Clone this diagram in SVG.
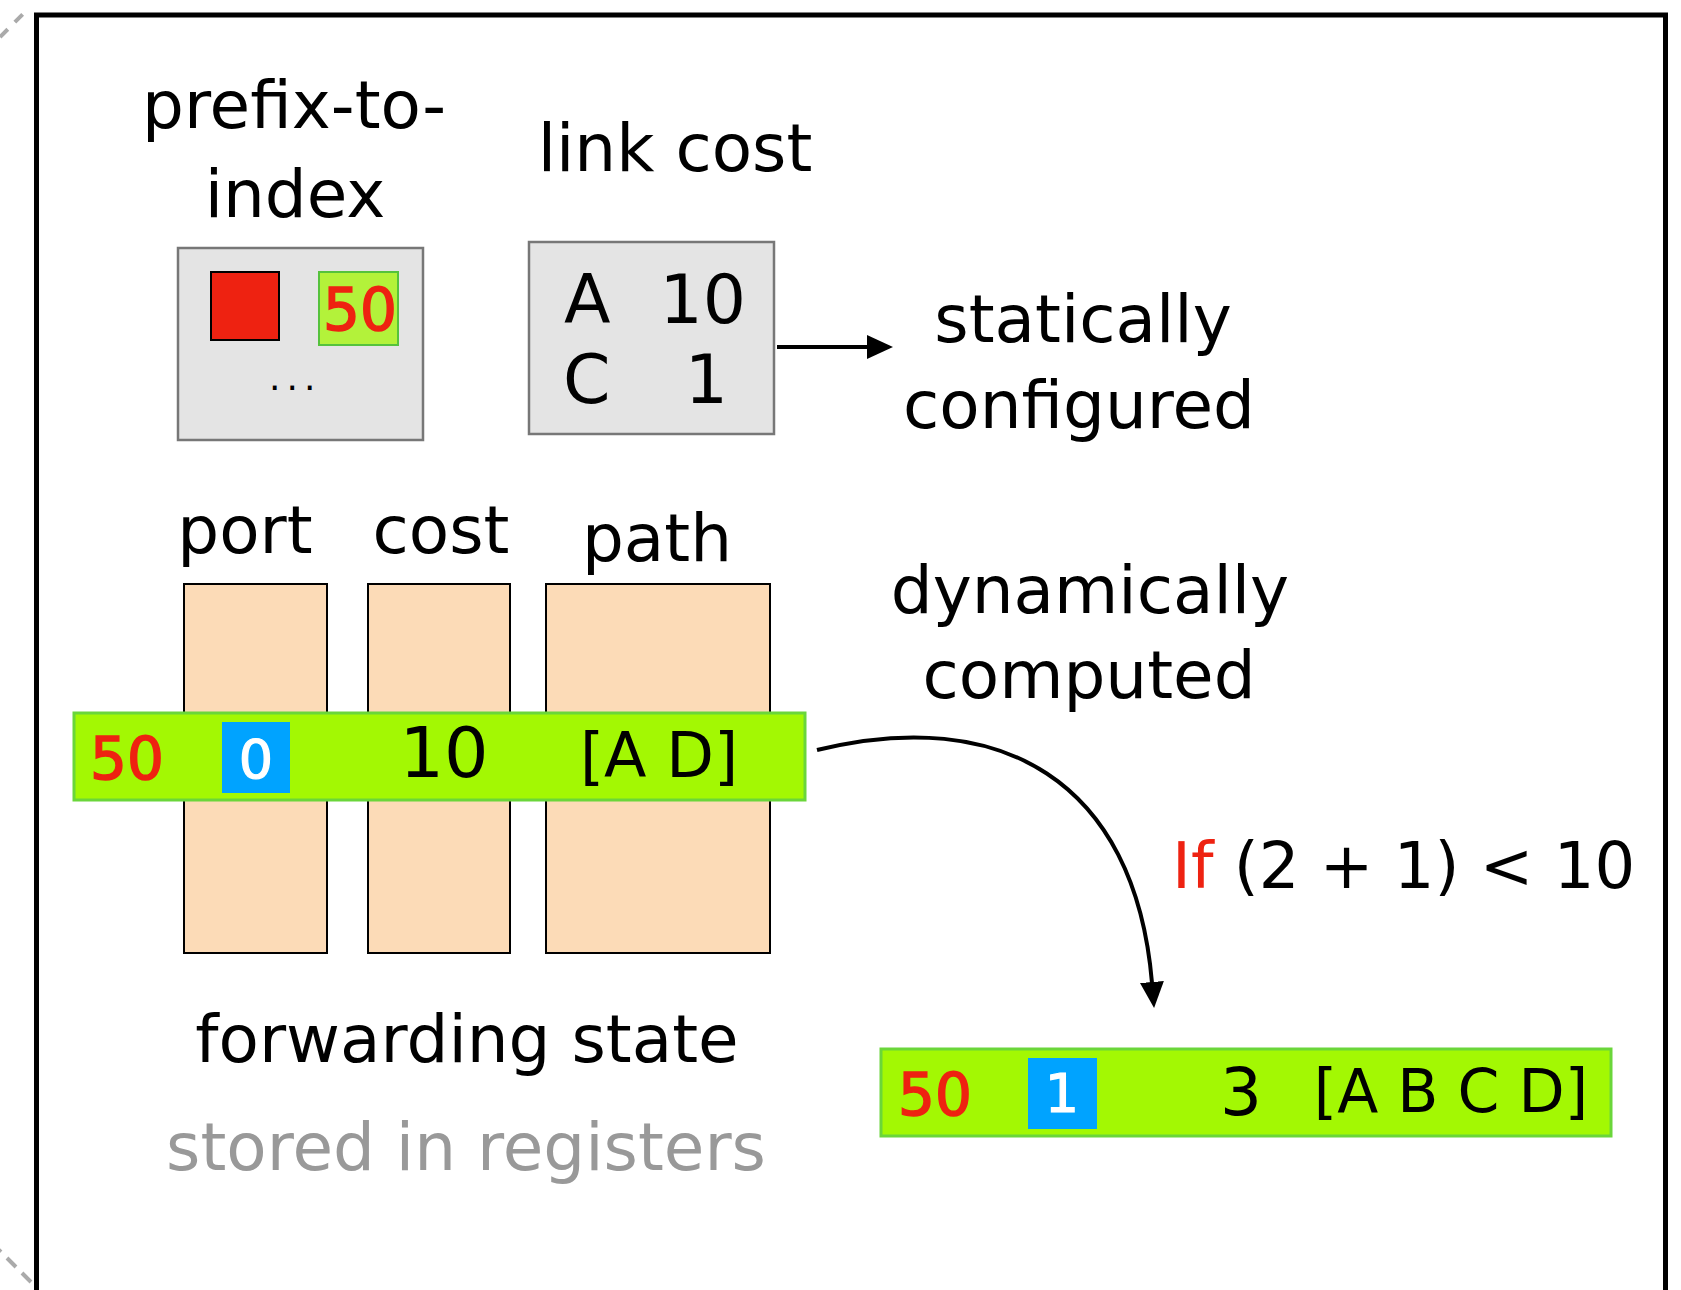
<svg xmlns="http://www.w3.org/2000/svg" width="1681" height="1290" viewBox="0 0 1681 1290">
<style>
  text { font-family: "DejaVu Sans", "Liberation Sans", sans-serif; fill: #000; }
  .lbl { font-size: 66px; text-anchor: middle; }
  .gray { fill: #999; }
  .red { fill: #ee2211; }
  .num { fill: #ee2211; stroke: #ee2211; stroke-width: 1.6; }
  .white { fill: #fff; stroke: #fff; stroke-width: 1.2; }
  .graybox { fill: #e4e4e4; stroke: #777; stroke-width: 2.5; }
  .col { fill: #fcdbb7; stroke: #000; stroke-width: 2; }
  .bar { fill: #a3f803; stroke: #6ad63a; stroke-width: 3; }
  .blue { fill: #00a3ff; }
  .conn { fill: none; stroke: #000; stroke-width: 4; }
  .dash { fill: none; stroke: #aaa; stroke-width: 4; }
</style>
<defs>
  <marker id="arrow" markerUnits="userSpaceOnUse" viewBox="0 0 26 24" markerWidth="26" markerHeight="24" refX="1" refY="12" orient="auto">
    <path d="M0,0 L26,12 L0,24 z" fill="#000"/>
  </marker>
</defs>
<rect width="1681" height="1290" fill="#fff"/>

<g id="background">
  <path class="dash" d="M0,37 L24,13" stroke-dasharray="11 10"/>
  <path class="dash" d="M-8,1243 L34,1285" stroke-dasharray="12.7 8.5"/>
  <path d="M36.5,1300 V15 H1665.5 V1300" fill="none" stroke="#000" stroke-width="5"/>
</g>

<g id="prefix-to-index">
  <text class="lbl" x="294" y="128">prefix-to-</text>
  <text class="lbl" x="295" y="217">index</text>
  <rect class="graybox" x="178" y="248" width="245" height="192"/>
  <rect x="211" y="272" width="68" height="68" fill="#ee2211" stroke="#000" stroke-width="2"/>
  <rect x="319" y="272" width="79" height="73" fill="#b3f23a" stroke="#55c23c" stroke-width="2"/>
  <text class="num" x="360" y="330" font-size="58" text-anchor="middle">50</text>
  <text x="269" y="390" font-size="36" letter-spacing="6">...</text>
</g>

<g id="link-cost">
  <text class="lbl" x="675" y="171">link cost</text>
  <rect class="graybox" x="529" y="242" width="245" height="192"/>
  <text x="564" y="323" font-size="68">A</text>
  <text x="746" y="323" font-size="68" text-anchor="end">10</text>
  <text x="563" y="403" font-size="68">C</text>
  <text x="728" y="403" font-size="68" text-anchor="end">1</text>
</g>

<g id="statically-configured">
  <text class="lbl" x="1083" y="342">statically</text>
  <text class="lbl" x="1079" y="428">configured</text>
</g>

<g id="forwarding-state">
  <text class="lbl" x="245" y="553">port</text>
  <text class="lbl" x="441" y="553">cost</text>
  <text class="lbl" x="657" y="561">path</text>
  <rect class="col" x="184" y="584" width="143" height="369"/>
  <rect class="col" x="368" y="584" width="142" height="369"/>
  <rect class="col" x="546" y="584" width="224" height="369"/>
  <rect class="bar" x="74" y="713" width="731" height="87"/>
  <text class="num" x="127" y="779" font-size="58" text-anchor="middle">50</text>
  <rect class="blue" x="222" y="722" width="68" height="71"/>
  <text class="white" x="256" y="778" font-size="54" text-anchor="middle">0</text>
  <text x="444" y="777" font-size="70" text-anchor="middle">10</text>
  <text x="659" y="777" font-size="62" text-anchor="middle">[A D]</text>
  <text class="lbl" x="467" y="1062">forwarding state</text>
  <text class="lbl gray" x="466" y="1170" font-size="67">stored in registers</text>
</g>

<g id="dynamically-computed">
  <text class="lbl" x="1090" y="613">dynamically</text>
  <text class="lbl" x="1089" y="698">computed</text>
</g>

<g id="condition">
  <text x="1172" y="888" font-size="64"><tspan class="red">If</tspan> (2 + 1) &lt; 10</text>
</g>

<g id="new-entry">
  <rect class="bar" x="881" y="1049" width="730" height="87"/>
  <text class="num" x="935" y="1115" font-size="58" text-anchor="middle">50</text>
  <rect class="blue" x="1028" y="1058" width="69" height="71"/>
  <text class="white" x="1062" y="1112" font-size="54" text-anchor="middle">1</text>
  <text x="1241" y="1115" font-size="66" text-anchor="middle">3</text>
  <text x="1451" y="1112" font-size="60" text-anchor="middle">[A B C D]</text>
</g>

<g id="connectors">
  <path class="conn" d="M777,347 H868" marker-end="url(#arrow)"/>
  <path class="conn" d="M817,750 C1000,705 1135,780 1152,983" marker-end="url(#arrow)"/>
</g>
</svg>
